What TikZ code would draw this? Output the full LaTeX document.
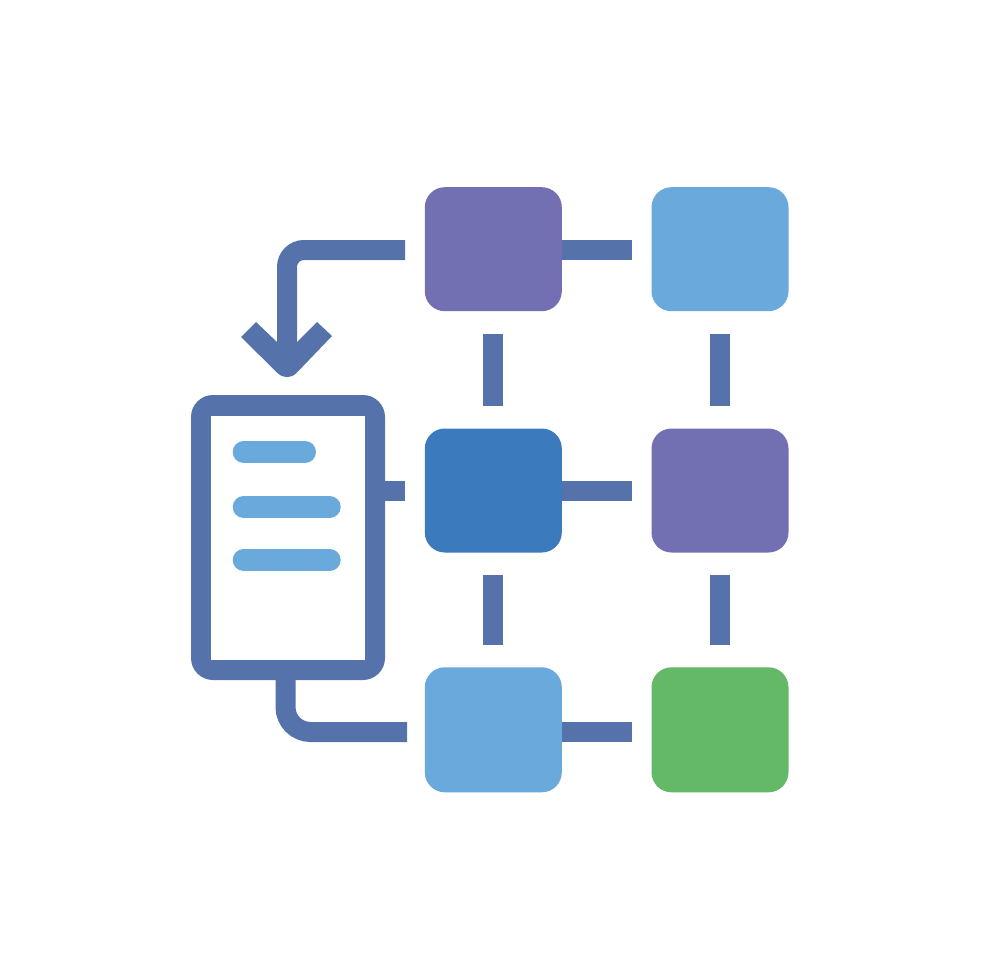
\documentclass[tikz,border=0pt]{standalone}
\definecolor{line}{HTML}{5672AB}
\definecolor{purp}{HTML}{7270B3}
\definecolor{sky}{HTML}{69A9DC}
\definecolor{deep}{HTML}{3A7ABD}
\definecolor{grn}{HTML}{64B968}
\tikzset{x=1pt,y=-1pt,
 sq/.style={minimum width=137pt,minimum height=124pt,rounded corners=20pt,inner sep=0pt,outer sep=0pt,draw=none},
 conn/.style={draw=line,line width=20pt},
 txtbar/.style={draw=sky,line width=22pt,line cap=round}}
\begin{document}
\begin{tikzpicture}
\useasboundingbox (0,0) rectangle (980,980);
\fill[white] (0,0) rectangle (980,980);
\node[sq,fill=purp] (a1) at (493.3,249.2) {};
\node[sq,fill=sky] (a2) at (720,249.2) {};
\node[sq,fill=deep] (b1) at (493.3,490.5) {};
\node[sq,fill=purp] (b2) at (720,490.5) {};
\node[sq,fill=sky,minimum height=125pt] (c1) at (493.3,729.8) {};
\node[sq,fill=grn,minimum height=125pt] (c2) at (720,729.8) {};
% grid connectors
\draw[conn,shorten >=20pt] ([yshift=-.8pt]a1.east) -- ([yshift=-.8pt]a2.west);
\draw[conn,shorten >=20pt] (b1.east) -- (b2.west);
\draw[conn,shorten >=20pt] ([yshift=-2pt]c1.east) -- ([yshift=-2pt]c2.west);
\draw[conn,shorten <=23pt,shorten >=23pt] (a1.south) -- (b1.north);
\draw[conn,shorten <=23pt,shorten >=23pt] (a2.south) -- (b2.north);
\draw[conn,shorten <=22pt,shorten >=22pt] (b1.south) -- (c1.north);
\draw[conn,shorten <=22pt,shorten >=22pt] (b2.south) -- (c2.north);
% document
\node[fill=line,rounded corners=22pt,minimum width=194pt,minimum height=285pt,inner sep=0pt,outer sep=0pt] (doc) at (288,537.5) {};
\node[fill=white,minimum width=154pt,minimum height=244pt,inner sep=0pt,outer sep=0pt] (docin) at (288,538) {};
\coordinate (t1a) at (243.7,452); \coordinate (t1b) at (305,452);
\coordinate (t2a) at (243.7,507); \coordinate (t2b) at (329.7,507);
\coordinate (t3a) at (243.7,560); \coordinate (t3b) at (329.7,560);
\draw[txtbar] (t1a) -- (t1b);
\draw[txtbar] (t2a) -- (t2b);
\draw[txtbar] (t3a) -- (t3b);
% doc to b1
\draw[conn,shorten >=19.8pt] ([yshift=-.8pt]doc.east |- b1.west) -- ([yshift=-.8pt]b1.west);
% top return arrow
\coordinate (bend) at (287,250);
\coordinate (tip) at (287,350);
\draw[conn,rounded corners=17pt,shorten <=19.8pt] ([yshift=-.8pt]a1.west) -- (bend) -- (tip);
\fill[line] (241,337) -- (277.5,373) .. controls (283,378.5) and (291,378.5) .. (296.5,373) -- (332,336) -- (317,322) -- (297,342) -- (277,342) -- (256,322) -- cycle;
% bottom
\coordinate (s2) at (285.5,732);
\coordinate (s1) at (285.5,670);
\draw[conn,rounded corners=25pt,shorten >=17.8pt] (s1) -- (s2) -- ([yshift=-2.2pt]c1.west);
\end{tikzpicture}
\end{document}
